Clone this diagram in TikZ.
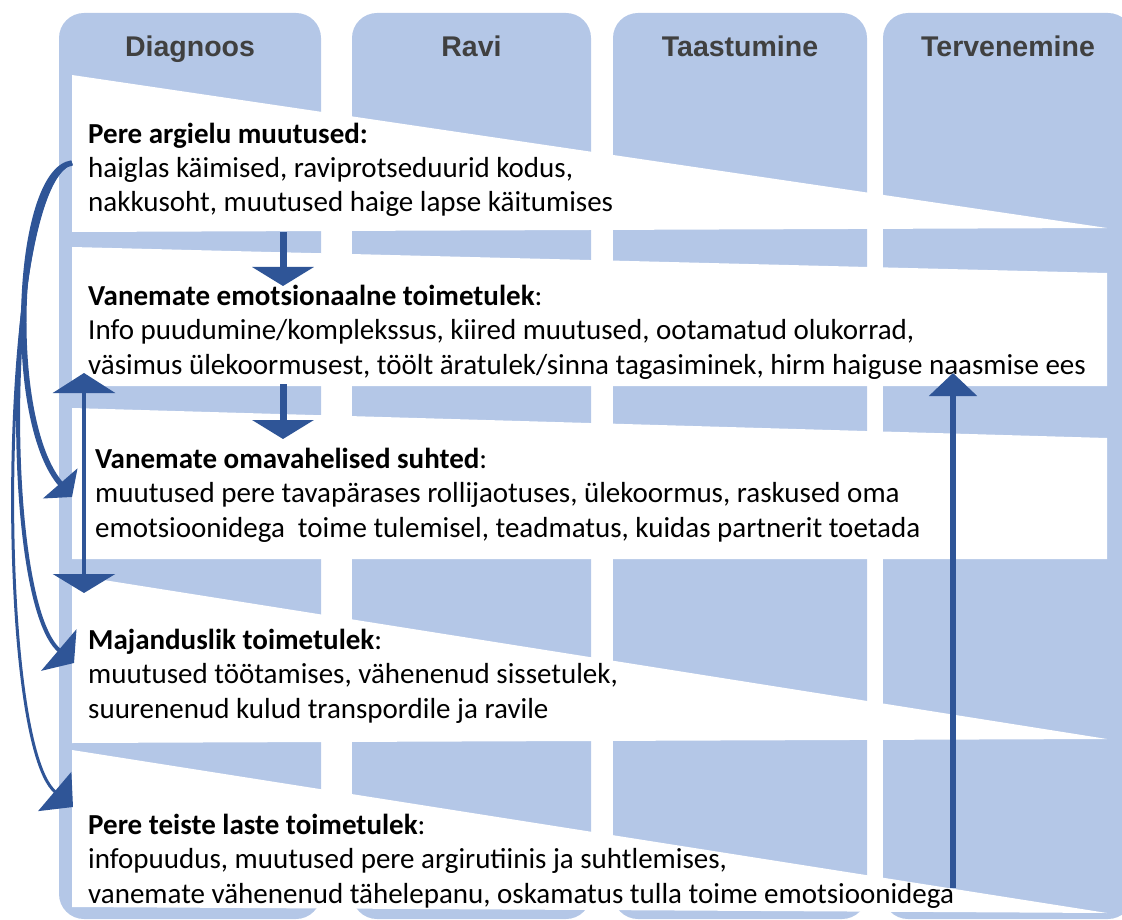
\documentclass[tikz,border=0pt]{standalone}
\usepackage{fontspec}
\setmainfont{Carlito}
\newfontfamily\headfont{Liberation Sans}
\usetikzlibrary{arrows.meta}

\definecolor{colblue}{RGB}{180,199,231}
\definecolor{arrblue}{RGB}{47,85,151}
\definecolor{headgray}{RGB}{64,64,64}

\begin{document}
\begin{tikzpicture}[x=1pt,y=-1pt,
    column/.style={fill=colblue,rounded corners=25pt},
    head node/.style={font=\headfont\bfseries\fontsize{28.5}{34}\selectfont,text=headgray,anchor=base,inner sep=0},
    main node/.style={font=\fontsize{29}{34.5}\selectfont,align=left,anchor=base west,inner sep=0},
    down/.style={draw=arrblue,line width=7pt,-{Triangle[length=19pt,width=61pt]}},
    both/.style={draw=arrblue,line width=3.5pt,{Triangle[length=20pt,width=62pt]}-{Triangle[length=19pt,width=62pt]}},
    up/.style={draw=arrblue,line width=6pt,-{Triangle[length=23pt,width=47pt]}}]
  \useasboundingbox (0,0) rectangle (1122,920);
  \clip (0,0) rectangle (1122,920);

  % columns
  \fill[column] (59,13) rectangle (321,919);
  \fill[column] (352,13) rectangle (591,919);
  \fill[column] (613,13) rectangle (867,919);
  \fill[column] (883,13) rectangle (1133,919);

  \node[head node] (h1) at (190,57) {Diagnoos};
  \node[head node] (h2) at (471.5,57) {Ravi};
  \node[head node] (h3) at (740,57) {Taastumine};
  \node[head node] (h4) at (1008,57) {Tervenemine};

  % white bands
  \fill[white] (72,75) -- (1107,228) -- (72,232) -- cycle;
  \fill[white] (72,247) -- (1107,273) -- (1107,386) -- (72,386) -- cycle;
  \fill[white] (72,408) -- (1107,438) -- (1107,559) -- (72,559) -- cycle;
  \fill[white] (72,575) -- (1107,739) -- (72,743) -- cycle;
  \fill[white] (72,750) -- (1107,913) -- (72,907) -- cycle;

  % base anchor = last line
  \node[main node] (1) at (88,212) {\textbf{Pere argielu muutused:}\\
    haiglas käimised, raviprotseduurid kodus,\\
    nakkusoht, muutused haige lapse käitumises};
  \node[main node] (2) at (88,374) {\textbf{Vanemate emotsionaalne toimetulek}:\\
    Info puudumine/komplekssus, kiired muutused, ootamatud olukorrad,\\
    väsimus ülekoormusest, töölt äratulek/sinna tagasiminek, hirm haiguse naasmise ees};
  \node[main node] (3) at (95,537) {\textbf{Vanemate omavahelised suhted}:\\
    muutused pere tavapärases rollijaotuses, ülekoormus, raskused oma\\
    emotsioonidega\ \ toime tulemisel, teadmatus, kuidas partnerit toetada};
  \node[main node] (4) at (88,718) {\textbf{Majanduslik toimetulek}:\\
    muutused töötamises, vähenenud sissetulek,\\
    suurenenud kulud transpordile ja ravile};
  \node[main node] (5) at (88,903) {\textbf{Pere teiste laste toimetulek}:\\
    infopuudus, muutused pere argirutiinis ja suhtlemises,\\
    vanemate vähenenud tähelepanu, oskamatus tulla toime emotsioonidega};

  % arrow ends
  \coordinate (a1) at (283,232);
  \coordinate (b1) at (283,286);
  \coordinate (a2) at (283,384);
  \coordinate (b2) at (283,439);
  \coordinate (d1) at (84,373);
  \coordinate (d2) at (84,593);
  \coordinate (u1) at (953,888);
  \coordinate (u2) at (953,373);
  \coordinate (s) at (72,163);
  \coordinate (c3) at (72,497);
  \coordinate (c4) at (74,663);
  \coordinate (c5) at (73,807);

  \path (a1) edge[down] (b1)
        (a2) edge[down] (b2)
        (d1) edge[both] (d2)
        (u1) edge[up] (u2);

  \draw[arrblue,line width=5.5pt,-{Triangle[length=18pt,width=45pt]}]
    (s) .. controls (15,170) and (5,420) .. (c3);
  \draw[arrblue,line width=4pt,-{Triangle[length=20pt,width=54pt]}]
    (s) .. controls (5,180) and (0,600) .. (c4);
  \draw[arrblue,line width=3pt,-{Triangle[length=24pt,width=51pt]}]
    (s) .. controls (-2,185) and (-6,740) .. (c5);
\end{tikzpicture}
\end{document}
